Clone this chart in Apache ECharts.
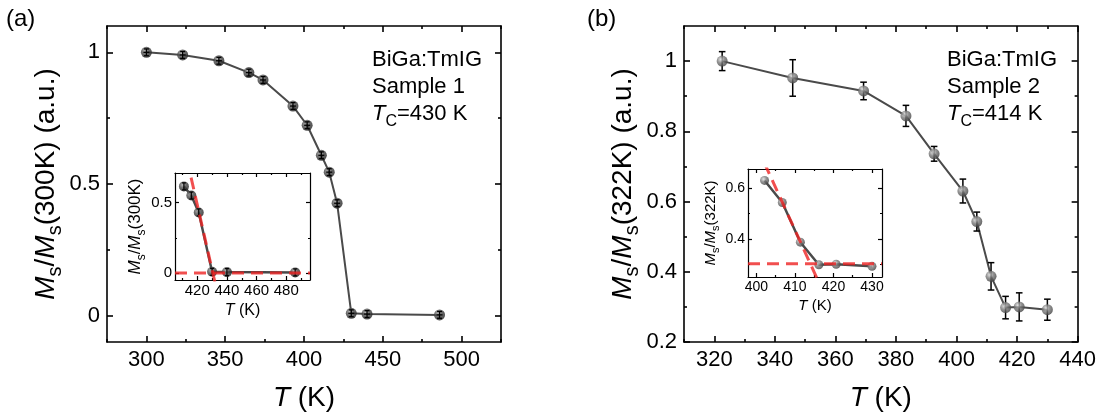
<!DOCTYPE html>
<html><head><meta charset="utf-8">
<script src="https://cdn.jsdelivr.net/npm/echarts@6/dist/echarts.min.js"></script>
<style>html,body{margin:0;padding:0;background:#fff}#c{width:1099px;height:420px}</style>
</head><body><div id="c"></div>
<script>
// ---------- Panel (a): Sample 1 ----------
const tempA = [300, 323, 346, 365, 374, 393, 402, 411, 416, 421, 430, 440, 486];
const msA   = [1.000, 0.990, 0.968, 0.923, 0.895, 0.796, 0.723, 0.609, 0.545, 0.427, 0.009, 0.006, 0.003];
const errA  = [0.013, 0.013, 0.013, 0.013, 0.013, 0.013, 0.013, 0.013, 0.013, 0.013, 0.013, 0.013, 0.013];
const insetTempA = [411, 416, 421, 430, 440, 486];
const insetMsA   = [0.615, 0.550, 0.430, 0.008, 0.006, 0.004];
const insetErrA  = [0.025, 0.025, 0.025, 0.025, 0.025, 0.025];
const fitSteepA = [[413, 0.809], [433, -0.116]];
const fitFlatA  = [[405, 0], [496, 0]];
// ---------- Panel (b): Sample 2 ----------
const tempB = [322.6, 345.9, 369.3, 383.3, 392.6, 402.1, 406.7, 411.4, 416.2, 420.7, 430.0];
const msB   = [1.000, 0.952, 0.915, 0.844, 0.736, 0.630, 0.543, 0.387, 0.298, 0.300, 0.292];
const errB  = [0.027, 0.052, 0.025, 0.030, 0.021, 0.034, 0.027, 0.039, 0.032, 0.040, 0.030];
const insetTempB = [402.1, 406.7, 411.4, 416.2, 420.7, 430.0];
const insetMsB   = [0.630, 0.543, 0.387, 0.298, 0.300, 0.292];
const fitSteepB = [[400, 0.767], [418, 0.169]];
const fitFlatB  = [[397.8, 0.302], [432.6, 0.302]];
// ---------- Tick values ----------
const xMajorA = [300, 350, 400, 450, 500], xMinorA = [275, 325, 375, 425, 475, 525];
const yMajorA = [0, 0.5, 1], yMinorA = [0.25, 0.75];
const xMajorIA = [420, 440, 460, 480], xMinorIA = [410, 430, 450, 470, 490];
const yMajorIA = [0, 0.5], yMinorIA = [0.25];
const xMajorB = [320, 340, 360, 380, 400, 420, 440], xMinorB = [310, 330, 350, 370, 390, 410, 430];
const yMajorB = [0.2, 0.4, 0.6, 0.8, 1], yMinorB = [0.3, 0.5, 0.7, 0.9];
const xMajorIB = [400, 410, 420, 430], xMinorIB = [405, 415, 425];
const yMajorIB = [0.4, 0.6], yMinorIB = [0.3, 0.5];

const FONT = 'Liberation Sans, Arial, sans-serif';
const chart = echarts.init(document.getElementById('c'), null, {renderer: 'canvas'});

const xAxes = [], yAxes = [];
function addAxes(list, dim, gi, min, max, major, minor, cfg) {
  const sides = dim === 'x' ? ['bottom', 'top'] : ['left', 'right'];
  const base = list.length;
  const mk = (pos, vals, len, label, lineShow) => ({
    type: 'value', gridIndex: gi, min: min, max: max, position: pos, scale: true,
    axisLine: {show: lineShow, onZero: false, lineStyle: {color: '#000', width: cfg.lw}},
    axisTick: {show: true, inside: true, length: len, customValues: vals, lineStyle: {color: '#000', width: cfg.lw}},
    axisLabel: label ? {show: true, customValues: vals, margin: cfg.margin, color: '#000', fontSize: cfg.fs, fontFamily: FONT}
                     : {show: false},
    splitLine: {show: false}, minorTick: {show: false}
  });
  const a0 = mk(sides[0], major, cfg.major, true, true);
  if (cfg.name) {
    a0.name = cfg.name; a0.nameLocation = 'middle'; a0.nameGap = cfg.nameGap;
    if (dim === 'y') a0.nameRotate = 90;
    a0.nameTextStyle = {color: '#000', fontFamily: FONT, rich: cfg.rich};
  }
  list.push(a0);
  list.push(mk(sides[1], major, cfg.major, false, true));
  list.push(mk(sides[0], minor, cfg.minor, false, false));
  list.push(mk(sides[1], minor, cfg.minor, false, false));
  return base;
}
function richSet(fs, sfs, lh) {
  return {
    i: {fontSize: fs, fontStyle: 'italic', fontFamily: FONT, color: '#000', lineHeight: lh},
    n: {fontSize: fs, fontFamily: FONT, color: '#000', lineHeight: lh},
    sub: {fontSize: sfs, fontFamily: FONT, color: '#000', lineHeight: sfs, verticalAlign: 'bottom'}
  };
}
const tName = '{i|T}{n| (K)}';
const mainCfg = {lw: 1.6, major: 6, minor: 3, fs: 22, margin: 7};
// grid 0: main (a)
const xa = addAxes(xAxes, 'x', 0, 275, 525, xMajorA, xMinorA, Object.assign({}, mainCfg, {name: tName, nameGap: 39, rich: richSet(28, 20, 34)}));
const ya = addAxes(yAxes, 'y', 0, -0.1, 1.1, yMajorA, yMinorA, Object.assign({}, mainCfg, {name: '{i|M}{sub|s}{n|/}{i|M}{sub|s}{n|(300K) (a.u.)}', nameGap: 38, rich: richSet(28, 20, 38)}));
// grid 1: inset (a)
const insCfgA = {lw: 1.2, major: 4, minor: 2, fs: 15, margin: 3};
const xia = addAxes(xAxes, 'x', 1, 405, 496, xMajorIA, xMinorIA, Object.assign({}, insCfgA, {name: tName, nameGap: 21, rich: richSet(16, 11, 20)}));
const yia = addAxes(yAxes, 'y', 1, -0.05, 0.71, yMajorIA, yMinorIA, Object.assign({}, insCfgA, {name: '{i|M}{sub|s}{n|/}{i|M}{sub|s}{n|(300K)}', nameGap: 23, rich: richSet(17, 12, 24)}));
// grid 2: main (b)
const xb = addAxes(xAxes, 'x', 2, 310, 440, xMajorB, xMinorB, Object.assign({}, mainCfg, {name: tName, nameGap: 39, rich: richSet(28, 20, 34)}));
const yb = addAxes(yAxes, 'y', 2, 0.2, 1.1, yMajorB, yMinorB, Object.assign({}, mainCfg, {name: '{i|M}{sub|s}{n|/}{i|M}{sub|s}{n|(322K) (a.u.)}', nameGap: 41, rich: richSet(28, 20, 38)}));
// grid 3: inset (b)
const insCfgB = {lw: 1.2, major: 4, minor: 2, fs: 14, margin: 3};
const xib = addAxes(xAxes, 'x', 3, 397.8, 432.6, xMajorIB, xMinorIB, Object.assign({}, insCfgB, {name: tName, nameGap: 19, rich: richSet(15, 10, 19)}));
const yib = addAxes(yAxes, 'y', 3, 0.25, 0.675, yMajorIB, yMinorIB, Object.assign({}, insCfgB, {name: '{i|M}{sub|s}{n|/}{i|M}{sub|s}{n|(322K)}', nameGap: 20, rich: richSet(15, 11, 22)}));

const zip = (xs, ys) => xs.map((x, i) => [x, ys[i]]);
const zip3 = (xs, ys, es) => xs.map((x, i) => [x, ys[i], es[i]]);
const ballDark = {type: 'radial', x: 0.38, y: 0.35, r: 0.7, colorStops: [{offset: 0, color: '#a8a8a8'}, {offset: 0.45, color: '#4a4a4a'}, {offset: 1, color: '#1e1e1e'}]};
const ballLight = {type: 'radial', x: 0.38, y: 0.35, r: 0.7, colorStops: [{offset: 0, color: '#e0e0e0'}, {offset: 0.45, color: '#7c7c7c'}, {offset: 1, color: '#3c3c3c'}]};

function errRender(capHalf, lw, cross) {
  return function (params, api) {
    const x = api.value(0), y = api.value(1), e = api.value(2);
    const hi = api.coord([x, y + e]), lo = api.coord([x, y - e]), c = api.coord([x, y]);
    const st = {stroke: '#000', lineWidth: lw};
    const ch = [
      {type: 'line', shape: {x1: hi[0], y1: hi[1], x2: lo[0], y2: lo[1]}, style: st},
      {type: 'line', shape: {x1: hi[0] - capHalf, y1: hi[1], x2: hi[0] + capHalf, y2: hi[1]}, style: st},
      {type: 'line', shape: {x1: lo[0] - capHalf, y1: lo[1], x2: lo[0] + capHalf, y2: lo[1]}, style: st}
    ];
    if (cross) ch.push({type: 'line', shape: {x1: c[0] - capHalf - 0.5, y1: c[1], x2: c[0] + capHalf + 0.5, y2: c[1]}, style: st});
    return {type: 'group', children: ch};
  };
}
function panelSeries(xi, yi, xs, ys, es, ball, size, lineW, errZ, capHalf, errLw, cross) {
  const s = [
    {type: 'line', xAxisIndex: xi, yAxisIndex: yi, data: zip(xs, ys), showSymbol: false, silent: true,
     lineStyle: {color: '#4a4a4a', width: lineW}, z: 2},
    {type: 'scatter', xAxisIndex: xi, yAxisIndex: yi, data: zip(xs, ys), symbol: 'circle', symbolSize: size, silent: true,
     itemStyle: {color: ball}, z: 4}
  ];
  if (es) s.push({type: 'custom', xAxisIndex: xi, yAxisIndex: yi, data: zip3(xs, ys, es), encode: {x: 0, y: 1},
     renderItem: errRender(capHalf, errLw, cross), silent: true, z: errZ});
  return s;
}
function fitSeries(xi, yi, pts) {
  return {type: 'line', xAxisIndex: xi, yAxisIndex: yi, data: pts, showSymbol: false, silent: true, clip: true,
    lineStyle: {color: 'rgba(238,35,35,0.8)', width: 3, type: [12, 7]}, z: 10};
}

const series = [].concat(
  panelSeries(xa, ya, tempA, msA, errA, ballDark, 11, 2, 5, 2.5, 1.3, true),
  panelSeries(xia, yia, insetTempA, insetMsA, insetErrA, ballDark, 10, 2.5, 5, 2, 1.2, false),
  [fitSeries(xia, yia, fitSteepA), fitSeries(xia, yia, fitFlatA)],
  panelSeries(xb, yb, tempB, msB, errB, ballLight, 11, 2, 3, 3.3, 1.5, false),
  panelSeries(xib, yib, insetTempB, insetMsB, null, ballLight, 9, 2.5, 3, 2, 1, false),
  [fitSeries(xib, yib, fitSteepB), fitSeries(xib, yib, fitFlatB)]
);

const txt = (x, y, text, fs, extra) => ({type: 'text', x: x, y: y, z: 20,
  style: Object.assign({text: text, fontSize: fs, fontFamily: FONT, fill: '#000', verticalAlign: 'middle', align: 'left'}, extra || {})});
const tcRich = {
  i: {fontSize: 22, fontStyle: 'italic', fontFamily: FONT, fill: '#000', lineHeight: 32},
  n: {fontSize: 22, fontFamily: FONT, fill: '#000', lineHeight: 32},
  sub: {fontSize: 16, fontFamily: FONT, fill: '#000', lineHeight: 16, verticalAlign: 'bottom'}
};

chart.setOption({
  animation: false,
  backgroundColor: '#fff',
  grid: [
    {left: 107, top: 26, width: 394, height: 316, containLabel: false},
    {left: 175, top: 173, width: 135, height: 107, containLabel: false},
    {left: 684, top: 26, width: 394, height: 316, containLabel: false},
    {left: 748, top: 169, width: 134, height: 108, containLabel: false}
  ],
  xAxis: xAxes,
  yAxis: yAxes,
  series: series,
  graphic: [
    txt(6, 19, '(a)', 24),
    txt(587, 19, '(b)', 24),
    txt(372, 60, 'BiGa:TmIG', 22),
    txt(372, 87, 'Sample 1', 22),
    txt(372, 114, '{i|T}{sub|C}{n|=430 K}', 22, {rich: tcRich}),
    txt(947, 60, 'BiGa:TmIG', 22),
    txt(947, 87, 'Sample 2', 22),
    txt(947, 114, '{i|T}{sub|C}{n|=414 K}', 22, {rich: tcRich})
  ]
});
</script></body></html>
